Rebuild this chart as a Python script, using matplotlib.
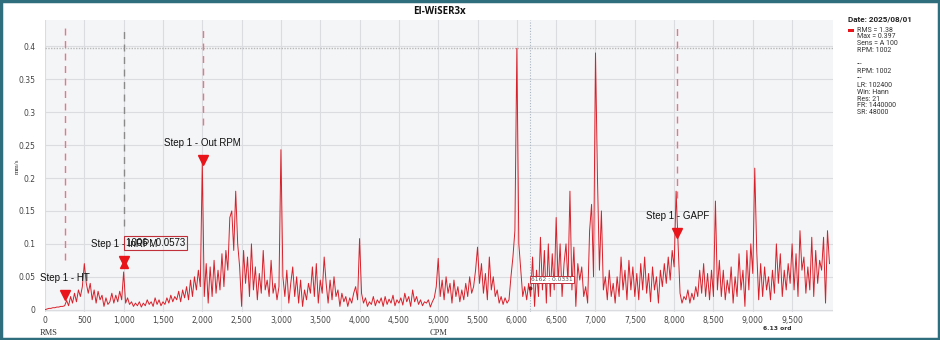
import numpy as np
import matplotlib
matplotlib.use("Agg")
import matplotlib.pyplot as plt
from matplotlib import transforms
from matplotlib.patches import Rectangle

# spectrum, 25 CPM spacing
cpm_step = 25
amp = [
    # 0 - 475
    0.0, 0.001, 0.002, 0.002, 0.003, 0.003, 0.004, 0.004, 0.005, 0.005,
    0.006, 0.014, 0.006, 0.02, 0.01, 0.025, 0.012, 0.03, 0.02, 0.035,
    # 500 - 975
    0.07, 0.04, 0.025, 0.04, 0.015, 0.03, 0.01, 0.028, 0.015, 0.022,
    0.005, 0.018, 0.008, 0.012, 0.025, 0.01, 0.022, 0.012, 0.028, 0.015,
    # 1000 - 1475
    0.0573, 0.01, 0.018, 0.008, 0.012, 0.005, 0.01, 0.006, 0.012, 0.004,
    0.01, 0.006, 0.015, 0.008, 0.012, 0.005, 0.018, 0.008, 0.015, 0.006,
    # 1500 - 1975
    0.012, 0.008, 0.018, 0.01, 0.022, 0.012, 0.02, 0.015, 0.028, 0.012,
    0.03, 0.018, 0.035, 0.015, 0.045, 0.02, 0.05, 0.03, 0.06, 0.035,
    # 2000 - 2475
    0.225, 0.02, 0.07, 0.01, 0.065, 0.02, 0.075, 0.025, 0.06, 0.03,
    0.085, 0.035, 0.09, 0.06, 0.14, 0.15, 0.09, 0.18, 0.1, 0.065,
    # 2500 - 2975
    0.005, 0.09, 0.04, 0.08, 0.02, 0.1, 0.03, 0.065, 0.015, 0.055,
    0.025, 0.09, 0.03, 0.045, 0.02, 0.075, 0.025, 0.04, 0.015, 0.035,
    # 3000 - 3475
    0.243, 0.05, 0.02, 0.06, 0.01, 0.04, 0.065, 0.02, 0.05, 0.01,
    0.045, 0.005, 0.03, 0.015, 0.04, 0.025, 0.065, 0.02, 0.07, 0.01,
    # 3500 - 3975
    0.045, 0.025, 0.08, 0.04, 0.01, 0.045, 0.015, 0.05, 0.02, 0.03,
    0.005, 0.025, 0.012, 0.02, 0.005, 0.018, 0.01, 0.025, 0.035, 0.015,
    # 4000 - 4475
    0.108, 0.025, 0.01, 0.018, 0.005, 0.012, 0.008, 0.02, 0.006, 0.015,
    0.01, 0.018, 0.005, 0.02, 0.008, 0.016, 0.01, 0.022, 0.006, 0.015,
    # 4500 - 4975
    0.01, 0.018, 0.007, 0.025, 0.012, 0.02, 0.005, 0.03, 0.012, 0.02,
    0.008, 0.015, 0.006, 0.012, 0.01, 0.015, 0.004, 0.012, 0.018, 0.035,
    # 5000 - 5475
    0.078, 0.02, 0.045, 0.015, 0.05, 0.025, 0.04, 0.01, 0.045, 0.02,
    0.035, 0.012, 0.03, 0.015, 0.04, 0.02, 0.05, 0.025, 0.035, 0.06,
    # 5500 - 5975
    0.095, 0.04, 0.07, 0.025, 0.055, 0.015, 0.08, 0.03, 0.05, 0.02,
    0.03, 0.01, 0.02, 0.008, 0.018, 0.01, 0.015, 0.05, 0.08, 0.12,
    # 6000 - 6475
    0.397, 0.1, 0.06, 0.02, 0.035, 0.015, 0.04, 0.02, 0.08, 0.005,
    0.06, 0.02, 0.11, 0.03, 0.09, 0.01, 0.1, 0.02, 0.085, 0.03,
    # 6500 - 6975
    0.14, 0.04, 0.1, 0.02, 0.07, 0.1, 0.04, 0.18, 0.03, 0.095,
    0.005, 0.07, 0.045, 0.065, 0.02, 0.035, 0.01, 0.12, 0.16, 0.05,
    # 7000 - 7475
    0.39, 0.2, 0.06, 0.15, 0.03, 0.05, 0.015, 0.06, 0.02, 0.04,
    0.01, 0.05, 0.02, 0.08, 0.03, 0.06, 0.015, 0.075, 0.03, 0.065,
    # 7500 - 7975
    0.02, 0.055, 0.015, 0.07, 0.03, 0.08, 0.025, 0.055, 0.012, 0.065,
    0.03, 0.05, 0.01, 0.06, 0.035, 0.07, 0.04, 0.08, 0.045, 0.09,
    # 8000 - 8475
    0.065, 0.18, 0.1, 0.025, 0.01, 0.02, 0.015, 0.03, 0.01, 0.025,
    0.015, 0.035, 0.02, 0.06, 0.025, 0.07, 0.02, 0.055, 0.015, 0.06,
    # 8500 - 8975
    0.02, 0.165, 0.03, 0.075, 0.02, 0.06, 0.015, 0.045, 0.025, 0.065,
    0.01, 0.05, 0.02, 0.085, 0.03, 0.06, 0.005, 0.09, 0.03, 0.1,
    # 9000 - 9475
    0.055, 0.215, 0.09, 0.015, 0.07, 0.02, 0.065, 0.03, 0.05, 0.015,
    0.06, 0.025, 0.1, 0.04, 0.085, 0.02, 0.06, 0.03, 0.07, 0.04,
    # 9500 - 9975
    0.1, 0.03, 0.085, 0.02, 0.12, 0.06, 0.08, 0.025, 0.065, 0.03,
    0.11, 0.02, 0.09, 0.04, 0.075, 0.06, 0.11, 0.01, 0.12, 0.07,
]
cpm = np.arange(len(amp)) * cpm_step

# step markers
step_names = ["Step 1 - HT", "Step 1 - InRPM", "Step 1 - Out RPM", "Step 1 - GAPF"]
step_cpm = [250, 1006, 2006, 8040]
step_amp = [0.006, 0.0573, 0.21, 0.1]
step_colors = ["#e07a86", "#8a8a8a", "#e07a86", "#e07a86"]

cursor_cpm = 6162
cursor_amp = 0.0331
max_amp = 0.397

legend_lines = ["RMS = 1.38", "Max = 0.397", "Sens = A 100", "RPM: 1002", "",
                "---", "RPM: 1002", "---", "LR: 102400", "Win: Hann",
                "Res: 21", "FR: 1440000", "SR: 48000"]

W, H = 940, 340
fig = plt.figure(figsize=(W / 100, H / 100), dpi=100)
fig.patch.set_facecolor("white")
ax = fig.add_axes([45 / W, 1 - 312 / H, (833 - 45) / W, (312 - 20) / H])
ax.set_facecolor("#f4f5f7")

ax.plot(cpm, amp, color="#d8202a", lw=0.7, zorder=3)

ax.set_xlim(0, 10020)
ax.set_ylim(-0.0035, 0.44)
ax.set_xticks(np.arange(0, 10000, 500))
ax.set_xticklabels([f"{v:,}" for v in range(0, 10000, 500)])
ax.set_yticks([0, 0.05, 0.1, 0.15, 0.2, 0.25, 0.3, 0.35, 0.4])
ax.set_yticklabels(["0", "0.05", "0.1", "0.15", "0.2", "0.25", "0.3", "0.35", "0.4"])
ax.tick_params(length=0, labelsize=5.5, labelcolor="#444444")
ax.tick_params(axis="y", pad=7)
ax.tick_params(axis="x", pad=3)
ax.grid(True, color="#dadce0", lw=0.8)
ax.set_axisbelow(True)
for s in ax.spines.values():
    s.set_visible(False)

# max line and cursor
ax.axhline(max_amp, color="#b8b8b8", lw=1, ls=(0, (1, 1)), zorder=2)
ax.axvline(cursor_cpm, color="#aab4c0", lw=0.8, ls=(0, (1, 1.5)), zorder=2)
ax.plot([cursor_cpm], [cursor_amp], "o", ms=1.8, color="#8b1a1a", zorder=5)
ax.annotate(f"{cursor_cpm} : {cursor_amp}", (cursor_cpm, cursor_amp),
            xytext=(1, 6), textcoords="offset points", fontsize=4.3,
            color="#555555", va="center", ha="left",
            bbox=dict(boxstyle="square,pad=0.2", fc="white", ec="#c0303a", lw=0.7),
            zorder=6)

tri_tr = transforms.offset_copy(ax.transData, fig=fig, x=0, y=11, units="dots")
txt_tr = transforms.offset_copy(ax.transData, fig=fig, x=0, y=28, units="dots")
for name, x, y, c in zip(step_names, step_cpm, step_amp, step_colors):
    ax.vlines(x, y + 0.07, 0.43, color=c, lw=1, linestyles=(0, (5, 4)), zorder=2)
    ax.plot([x], [y], marker="v", ms=7, color="#e8141a", transform=tri_tr, zorder=6)
    ax.text(x, y, name, transform=txt_tr, ha="center", va="center",
            fontsize=7, family="Liberation Sans", color="#111111", zorder=7)

# hover cross on InRPM marker, tooltip drawn over the step label
hov_tr = transforms.offset_copy(ax.transData, fig=fig, x=0, y=8, units="dots")
ax.plot([step_cpm[1]], [step_amp[1]], marker="^", ms=6, color="#e8141a",
        transform=hov_tr, zorder=6)
ax.annotate(f"1006 : {step_amp[1]}", (step_cpm[1], step_amp[1]),
            xytext=(1, 21), textcoords="offset points", fontsize=7,
            family="Liberation Sans", color="#111111", va="center", ha="left",
            bbox=dict(boxstyle="square,pad=0.2", fc="none", ec="#c0303a", lw=0.8),
            zorder=8)

fig.text(439 / W, 1 - 12 / H, "EI-WiSER3x", ha="center", va="center",
         fontsize=7, fontweight="bold", family="Open Sans", color="#111111")
fig.text(17 / W, 1 - 166 / H, "mm/s", rotation=90, ha="center", va="center",
         fontsize=5, family="Liberation Serif", color="#333333")
fig.text(40 / W, 1 - 333 / H, "RMS", ha="left", va="center",
         fontsize=6, family="Liberation Serif", color="#333333")
fig.text(439 / W, 1 - 333 / H, "CPM", ha="center", va="center",
         fontsize=6, family="Liberation Serif", color="#333333")
fig.text(763 / W, 1 - 328 / H, "6.13 ord", ha="left", va="center",
         fontsize=4.3, fontweight="bold", color="#333333")

# side legend
fig.text(848 / W, 1 - 19 / H, "Date: 2025/08/01", ha="left", va="center",
         fontsize=5.9, fontweight="bold", family="Roboto", color="#222222")
fig.patches.append(Rectangle((848 / W, 1 - 31.5 / H), 6 / W, 3 / H,
                             transform=fig.transFigure, fc="#e8141a", ec="none"))
for i, line in enumerate(legend_lines):
    fig.text(857 / W, 1 - (30 + i * 6.9) / H, line, ha="left", va="center",
             fontsize=5, family="Roboto", color="#333333")

# outer frame
fig.patches.append(Rectangle((0.0015, 0.004), 0.997, 0.992, transform=fig.transFigure,
                             fc="none", ec="#2f6e7d", lw=2.5))

fig.savefig("out.png", dpi=100)
